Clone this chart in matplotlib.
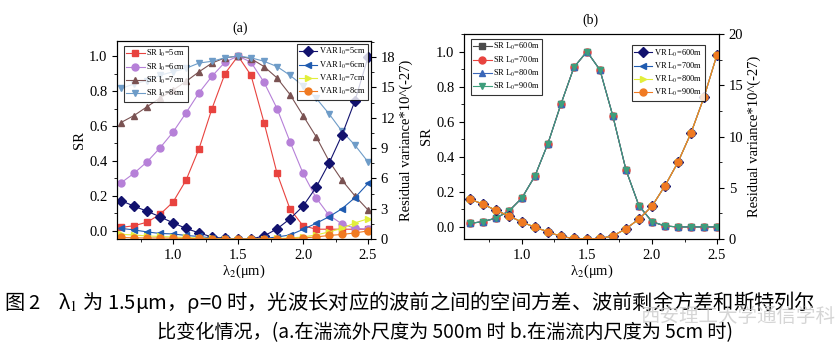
import numpy as np
import matplotlib
matplotlib.use("Agg")
import matplotlib.pyplot as plt
from matplotlib.ticker import MultipleLocator

plt.rcParams['font.family'] = ['Liberation Serif', 'DejaVu Serif']
plt.rcParams['mathtext.fontset'] = 'stix'

# wavelength lambda2 (um)
lam = np.round(np.arange(0.6, 2.51, 0.1), 2)

# panel (a): Strehl ratio for inner scale l0
sr_5cm = [0.02, 0.03, 0.05, 0.095, 0.165, 0.29, 0.47, 0.70, 0.90, 1.0,
          0.89, 0.62, 0.33, 0.125, 0.03, 0.01, 0.01, 0.01, 0.01, 0.01]
sr_6cm = [0.275, 0.33, 0.395, 0.475, 0.565, 0.675, 0.79, 0.885, 0.965, 1.0,
          0.965, 0.85, 0.70, 0.51, 0.33, 0.19, 0.09, 0.04, 0.015, 0.01]
sr_7cm = [0.62, 0.66, 0.71, 0.76, 0.805, 0.855, 0.91, 0.96, 0.99, 1.0,
          0.985, 0.94, 0.875, 0.78, 0.66, 0.54, 0.40, 0.29, 0.20, 0.12]
sr_8cm = [0.815, 0.84, 0.86, 0.89, 0.91, 0.93, 0.96, 0.97, 0.99, 1.0,
          0.99, 0.97, 0.94, 0.89, 0.83, 0.76, 0.67, 0.57, 0.49, 0.395]
# panel (a): residual variance *1e-27
var_5cm = [3.8, 3.25, 2.75, 2.2, 1.6, 1.05, 0.6, 0.2, 0.05, 0.0,
           0.0, 0.3, 1.0, 2.0, 3.25, 5.1, 7.5, 10.3, 13.7, 18.0]
var_6cm = [1.05, 0.9, 0.7, 0.55, 0.5, 0.35, 0.25, 0.1, 0.05, 0.0,
           0.0, 0.05, 0.2, 0.4, 0.95, 1.55, 2.2, 3.0, 4.1, 5.5]
var_7cm = [0.45, 0.4, 0.3, 0.25, 0.2, 0.15, 0.1, 0.05, 0.0, 0.0,
           0.0, 0.0, 0.05, 0.1, 0.2, 0.4, 0.7, 1.05, 1.6, 2.0]
var_8cm = [0.15, 0.12, 0.1, 0.1, 0.08, 0.06, 0.05, 0.02, 0.0, 0.0,
           0.0, 0.0, 0.02, 0.05, 0.1, 0.2, 0.35, 0.45, 0.6, 0.8]

# panel (b): outer scale L0 (curves coincide)
sr_L0 = [0.02, 0.03, 0.05, 0.09, 0.165, 0.29, 0.475, 0.70, 0.91, 1.0,
         0.895, 0.63, 0.325, 0.12, 0.03, 0.005, 0.0, 0.0, 0.0, 0.0]
vr_L0 = [3.9, 3.4, 2.8, 2.25, 1.65, 1.15, 0.7, 0.25, 0.05, 0.0,
         0.05, 0.3, 1.0, 1.95, 3.2, 5.2, 7.5, 10.35, 13.85, 18.0]

sr_a_labels = ['SR l$_0$=5cm', 'SR l$_0$=6cm', 'SR l$_0$=7cm', 'SR l$_0$=8cm']
var_a_labels = ['VAR l$_0$=5cm', 'VAR l$_0$=6cm', 'VAR l$_0$=7cm', 'VAR l$_0$=8cm']
sr_b_labels = ['SR L$_0$=600m', 'SR L$_0$=700m', 'SR L$_0$=800m', 'SR L$_0$=900m']
vr_b_labels = ['VR L$_0$=600m', 'VR L$_0$=700m', 'VR L$_0$=800m', 'VR L$_0$=900m']

sr_colors = ['#e8433f', '#b680d8', '#7a5252', '#6e9cc8']
sr_markers = ['s', 'o', '^', 'v']
var_colors = ['#12126e', '#1f5bb0', '#e2ee3a', '#f07a22']
var_markers = ['D', '<', '>', 'o']
srb_colors = ['#4a4a4a', '#e8433f', '#3a66b8', '#3e9e7c']

fig = plt.figure(figsize=(8.4, 3.57), dpi=100)


def style(ax, ax2):
    for a in (ax, ax2):
        a.tick_params(direction='out', labelsize=10.5, length=3.5, width=0.8)
        a.tick_params(which='minor', direction='out', length=2, width=0.6)
    ax.xaxis.set_major_locator(MultipleLocator(0.5))
    ax.xaxis.set_minor_locator(MultipleLocator(0.25))
    ax.yaxis.set_major_locator(MultipleLocator(0.2))
    ax.yaxis.set_minor_locator(MultipleLocator(0.1))
    ax.set_xlabel('λ$_2$(μm)', fontsize=10.5, labelpad=1)
    ax.set_ylabel('SR', fontsize=10.5, labelpad=2)
    ax2.set_ylabel('Residual variance*10^(-27)', fontsize=10.5, labelpad=3)


leg_kw = dict(fontsize=6, frameon=True, fancybox=False, edgecolor='black',
              handlelength=2.2, borderpad=0.3, labelspacing=0.25, handletextpad=0.2,
              borderaxespad=0.2, markerscale=1.0)

# ---- panel (a)
ax = fig.add_axes([117 / 840, 1 - 239 / 357, 254 / 840, 198 / 357])
ax2 = ax.twinx()
for y, c, m, l in zip([sr_5cm, sr_6cm, sr_7cm, sr_8cm], sr_colors, sr_markers, sr_a_labels):
    ax.plot(lam, y, color=c, marker=m, ms=5, lw=0.8, label=l)
for y, c, m, l in zip([var_5cm, var_6cm, var_7cm, var_8cm], var_colors, var_markers, var_a_labels):
    ax2.plot(lam, y, color=c, marker=m, ms=5, lw=0.8, label=l)
ax.set_xlim(0.569, 2.523)
ax.set_ylim(-0.046, 1.086)
ax2.set_ylim(0, 19.6)
ax2.yaxis.set_major_locator(MultipleLocator(3))
ax2.yaxis.set_minor_locator(MultipleLocator(1.5))
style(ax, ax2)
l1 = ax.legend(loc='upper left', bbox_to_anchor=(0.02, 0.985), **leg_kw)
l2 = ax2.legend(loc='upper right', bbox_to_anchor=(0.995, 0.995), **leg_kw)
for lg in (l1, l2):
    lg.get_frame().set_linewidth(0.8)
fig.text(240 / 840, 1 - 28 / 357, '(a)', ha='center', va='center', fontsize=10)

# ---- panel (b)
bx = fig.add_axes([464 / 840, 1 - 239 / 357, 255 / 840, 205 / 357])
bx2 = bx.twinx()
for c, m, l in zip(srb_colors, sr_markers, sr_b_labels):
    bx.plot(lam, sr_L0, color=c, marker=m, ms=5, lw=0.8, label=l)
for c, m, l in zip(var_colors, var_markers, vr_b_labels):
    bx2.plot(lam, vr_L0, color=c, marker=m, ms=5, lw=0.8, label=l)
bx.set_xlim(0.555, 2.515)
bx.set_ylim(-0.069, 1.10)
bx2.set_ylim(0, 20)
bx2.yaxis.set_major_locator(MultipleLocator(5))
bx2.yaxis.set_minor_locator(MultipleLocator(2.5))
style(bx, bx2)
l3 = bx.legend(loc='upper left', bbox_to_anchor=(0.02, 0.985), **leg_kw)
l4 = bx2.legend(loc='upper right', bbox_to_anchor=(0.95, 0.955), **leg_kw)
for lg in (l3, l4):
    lg.get_frame().set_linewidth(0.8)
fig.text(590 / 840, 1 - 20 / 357, '(b)', ha='center', va='center', fontsize=10)

# ---- caption
cap_font = ['Noto Sans CJK SC', 'DejaVu Sans']
fig.text(4 / 840, 1 - 302 / 357,
         '图 2    λ$_1$ 为 1.5μm，ρ=0 时，光波长对应的波前之间的空间方差、波前剩余方差和斯特列尔',
         ha='left', va='center', fontsize=14.6, family=cap_font)
fig.text(445 / 840, 1 - 333 / 357,
         '比变化情况，(a.在湍流外尺度为 500m 时 b.在湍流内尺度为 5cm 时)',
         ha='center', va='center', fontsize=13.8, family=cap_font)
fig.text(738 / 840, 1 - 316 / 357, '西安理工大学通信学科', ha='center', va='center',
         fontsize=14, family=cap_font, color='#c8c8c8', alpha=0.75)

fig.savefig('out.png', dpi=100)
